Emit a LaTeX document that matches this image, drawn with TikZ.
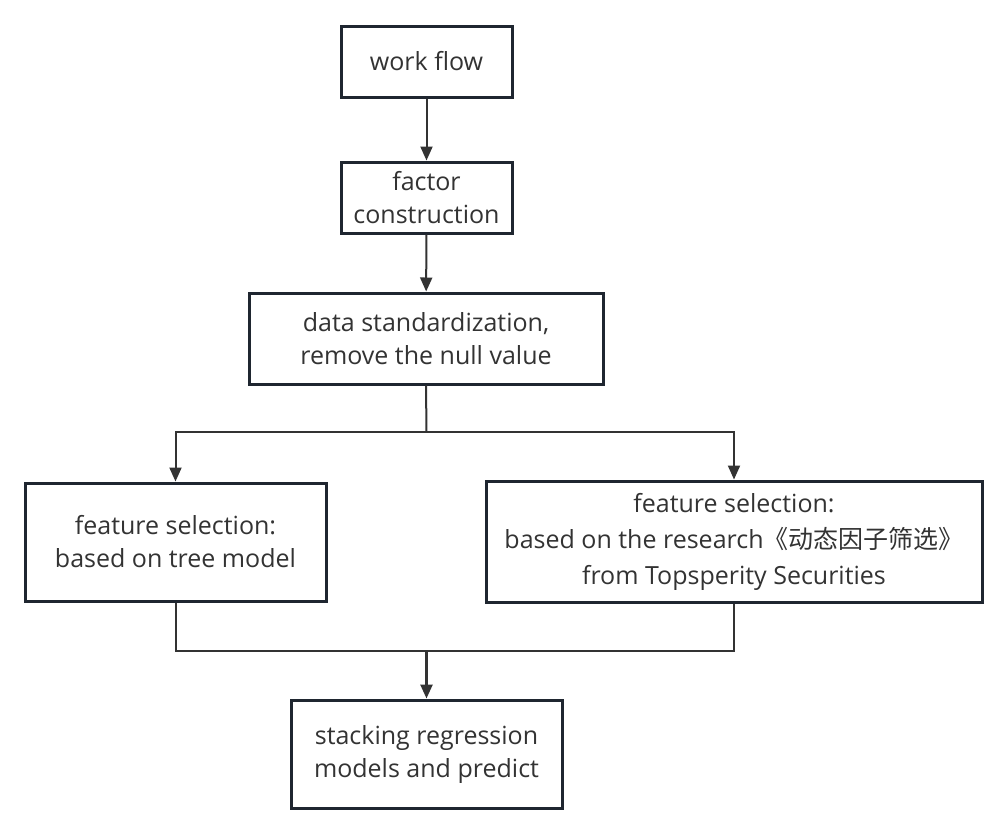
\documentclass[tikz,border=0pt]{standalone}
\usepackage{fontspec}
\setmainfont{Open Sans}
\newfontfamily\cjk{Noto Sans CJK SC}
\usetikzlibrary{arrows.meta}
\definecolor{boxline}{HTML}{1F2630}
\definecolor{conn}{HTML}{333333}
\definecolor{txt}{HTML}{333333}
\begin{document}
\begin{tikzpicture}[x=1pt,y=-1pt,
  box/.style={draw=boxline, line width=3pt, fill=white, text=txt, align=center,
    inner sep=0pt, font=\fontsize{25}{33}\selectfont},
  link/.style={draw=conn, line width=2pt},
  arr/.style={link, -{Triangle[length=14pt,width=12pt]}}]
\useasboundingbox (0,0) rectangle (1007,833);
\fill[white] (0,0) rectangle (1007,833);
\node[box, minimum width=171pt, minimum height=71pt] (wf) at (426.5,61.5) {work flow};
\node[box, minimum width=171pt, minimum height=71pt] (fc) at (426.5,197.5) {factor\\construction};
\node[box, minimum width=354pt, minimum height=91pt] (ds) at (426,338.5) {data standardization,\\remove the null value};
\node[box, minimum width=301pt, minimum height=118pt] (fl) at (175.5,542) {feature selection:\\based on tree model};
\node[box, minimum width=496pt, minimum height=121pt, font=\fontsize{25}{36}\selectfont] (fr) at (734,541.5) {feature selection:\\based on the research{\cjk 《动态因子筛选》}\\from Topsperity Securities};
\node[box, minimum width=271pt, minimum height=108pt] (st) at (426.5,754) {stacking regression\\models and predict};
\coordinate (split) at (426.5,432);
\coordinate (merge) at (426.5,651);
\draw[arr] (wf) -- (fc);
\draw[arr] (fc) -- (ds);
\draw[link] (ds.south) -- (split);
\draw[arr] (split) -| (fl.north);
\draw[arr] (split) -| (fr.north);
\draw[link] (fl.south) |- (merge);
\draw[link] (fr.south) |- (merge);
\draw[arr, line width=2.5pt] (merge) -- (st.north);
\end{tikzpicture}
\end{document}
